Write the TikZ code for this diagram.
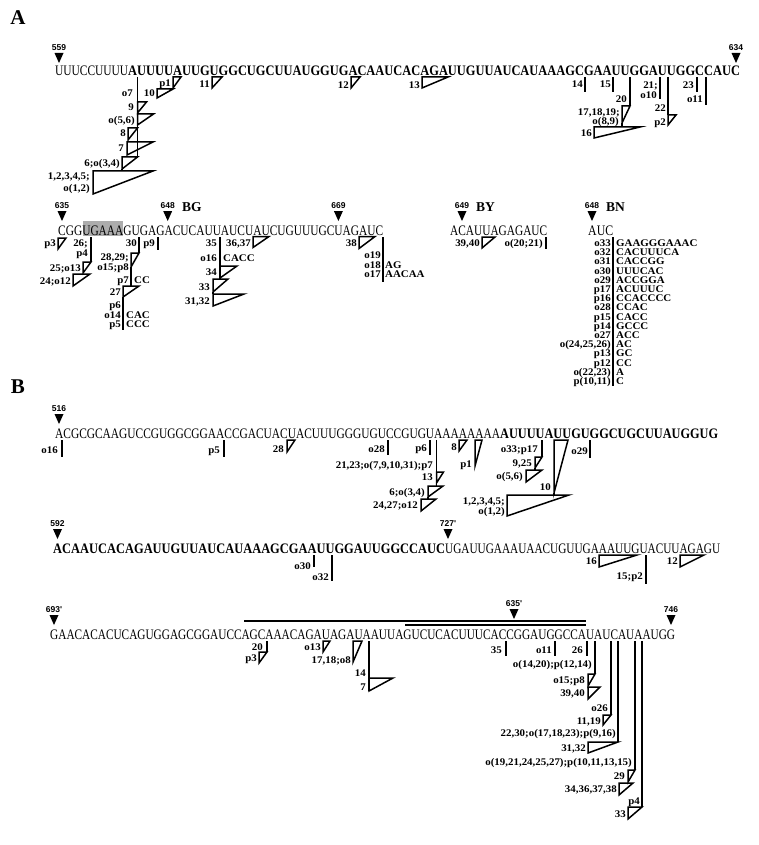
\documentclass[tikz,border=0pt]{standalone}
\usepackage{fontspec}
\usepackage{graphicx}
\setmainfont{Liberation Serif}
\newfontfamily\seqfont{Liberation Serif}
\newfontfamily\labfont{Liberation Serif}[FakeStretch=1.07]
\newfontfamily\numfont{Liberation Sans}
\newcount\nodecnt
\tikzset{
  mk/.style={line width=1.5pt},
  lab/.style={font=\labfont\bfseries\fontsize{10.2}{10.2}\selectfont, inner sep=0pt},
  num/.style={font=\numfont\bfseries\fontsize{8.5}{8.5}\selectfont, inner sep=0pt},
  seqn/.style={font=\seqfont\fontsize{14.5}{14.5}\selectfont, inner sep=0pt},
  head/.style={font=\bfseries\fontsize{21}{21}\selectfont, inner sep=0pt},
  tag/.style={font=\bfseries\fontsize{13.5}{13.5}\selectfont, inner sep=0pt},
}
% label, right edge x, centre y
\newcommand\Lb[3]{\global\advance\nodecnt by 1 \node[lab,anchor=base east] (lb\the\nodecnt) at (#1,#2+3.4) {#3};}
% label, left edge x, centre y
\newcommand\Rt[3]{\global\advance\nodecnt by 1 \node[lab,anchor=base west] (rt\the\nodecnt) at (#1,#2+3.4) {#3};}
% triangle: top-left x, y, width, height
\newcommand\Tr[4]{\draw[mk] (#1,#2) -- ++(#3,0) -- (#1,#2+#4) -- cycle;}
% vertical line
\newcommand\Vl[3]{\draw[mk] (#1,#2) -- (#1,#3);}
% position marker: name, x, top y, text
\newcommand\Ps[4]{\fill (#2-4.5,#3) -- (#2+4.5,#3) -- (#2,#3+10) -- cycle;
  \node[num,anchor=south] (#1) at (#2,#3-2) {#4};}
% sequence: name, left x, baseline y, width, text
\newcommand\Sq[5]{\node[seqn,anchor=base west] (#1) at (#2,#3) {\resizebox{#4pt}{\height}{#5}};}
% BN list row: index, left label, right text
\newcommand\Bn[3]{\Lb{611}{243+9.2*#1}{#2} \Rt{616}{243+9.2*#1}{#3}}
\begin{document}
\begin{tikzpicture}[x=1pt,y=-1pt]
\fill[white] (0,0) rectangle (759,845);
\useasboundingbox (0,0) rectangle (759,845);

%================ A, row 1
\node[head] (hA) at (18,18) {A};
\Ps{p559}{59}{53}{559}
\Ps{p634}{736}{53}{634}
\Sq{sA1a}{55}{76}{73}{UUUCCUUUU}
\Sq{sA1b}{128}{76}{612}{\bfseries AUUUUAUUGUGGCUGCUUAUGGUGACAAUCACAGAUUGUUAUCAUAAAGCGAAUUGGAUUGGCCAUC}

\Vl{137.5}{77}{157}
\Lb{133}{93}{o7}
\Tr{137.5}{102}{9}{11} \Lb{134}{107}{9}
\Tr{137.5}{114}{16}{11} \Lb{135}{120}{o(5,6)}
\Tr{128}{128}{9.5}{12} \Lb{126}{133}{8}
\Tr{127}{142}{26}{13} \Lb{124}{148}{7}
\Tr{122}{157}{15.5}{12} \Lb{120}{163}{6;o(3,4)}
\Vl{122}{169}{171}
\Tr{93}{171}{60}{23} \Lb{90}{176}{1,2,3,4,5;} \Lb{90}{188}{o(1,2)}

\Tr{173}{77}{8}{11} \Lb{171}{83}{p1}
\Vl{173}{88}{89}
\Tr{157}{89}{16}{9} \Lb{155}{93}{10}
\Tr{212}{77}{10}{11} \Lb{210}{84}{11}
\Tr{351}{77}{9}{11} \Lb{349}{85}{12}
\Tr{422}{77}{26}{11} \Lb{420}{85}{13}
\Vl{585}{77}{92} \Lb{583}{84}{14}
\Vl{613}{77}{92} \Lb{611}{84}{15}
\Vl{630}{77}{106} \Lb{627}{99}{20}
\Tr{622}{106}{8}{17} \Lb{620}{112}{17,18,19;} \Lb{619}{121}{o(8,9)}
\Vl{622}{123}{127}
\Tr{594}{127}{46}{11} \Lb{592}{133}{16}
\Vl{660}{77}{99} \Lb{658}{85}{21;} \Lb{657}{95}{o10}
\Vl{668}{77}{115} \Lb{666}{108}{22}
\Tr{668}{115}{8}{10} \Lb{666}{122}{p2}
\Vl{697}{77}{92} \Lb{694}{85}{23}
\Vl{706}{77}{105} \Lb{703}{99}{o11}

%================ A, row 2 : BG
\fill[gray!65] (82.5,221) rectangle (123,236);
\Sq{sBG}{58}{235}{325}{CGGUGAAAGUGAGACUCAUUAUCUAUCUGUUUGCUAGAUC}
\Ps{p635}{62}{211}{635}
\Ps{p648a}{167.7}{211}{648}
\node[tag,anchor=west] (tBG) at (182,207) {BG};
\Ps{p669}{338.4}{211}{669}

\Tr{58}{238}{8}{11} \Lb{56}{243}{p3}
\Vl{91}{237}{262} \Lb{88}{243}{26;} \Lb{88}{253}{p4}
\Tr{83}{262}{8}{11} \Lb{81}{268}{25;o13}
\Tr{73}{274}{17}{12} \Lb{71}{281}{24;o12}
\Vl{139}{237}{253} \Lb{137}{243}{30}
\Tr{131}{253}{8}{14} \Lb{129}{257}{28,29;} \Lb{129}{267}{o15;p8}
\Vl{131}{267}{286} \Lb{129}{280}{p7} \Rt{134}{280}{CC}
\Tr{123}{286}{16}{11} \Lb{121}{292}{27}
\Vl{123}{297}{330} \Lb{121}{305}{p6}
\Lb{121}{315}{o14} \Rt{126}{315}{CAC}
\Lb{121}{324.5}{p5} \Rt{126}{324.5}{CCC}
\Vl{158}{237}{250} \Lb{155}{243}{p9}
\Vl{220}{237}{279} \Lb{217}{243}{35}
\Lb{217}{258}{o16} \Rt{223}{258}{CACC}
\Tr{220}{266}{17}{12} \Lb{217}{272}{34}
\Tr{213}{279}{15}{13} \Lb{210}{287}{33}
\Vl{213}{292}{294}
\Tr{213}{294}{31}{12} \Lb{210}{301}{31,32}
\Tr{253}{236.5}{16}{11} \Lb{251}{243}{36,37}
\Tr{359}{236.5}{16}{12} \Lb{357}{243}{38}
\Vl{383}{237}{282} \Lb{381}{255}{o19}
\Lb{381}{265}{o18} \Rt{385}{265}{AG}
\Lb{381}{274.5}{o17} \Rt{385}{274.5}{AACAA}

%================ BY
\Sq{sBY}{450}{235}{97}{ACAUUAGAGAUC}
\Ps{p649}{462}{211}{649}
\node[tag,anchor=west] (tBY) at (476,207) {BY};
\Tr{482}{237}{13}{11} \Lb{480}{243}{39,40}
\Vl{546}{237}{249} \Lb{543}{243}{o(20;21)}

%================ BN
\Sq{sBN}{588}{235}{25}{AUC}
\Ps{p648b}{592}{211}{648}
\node[tag,anchor=west] (tBN) at (606,207) {BN};
\Vl{613}{237}{386}
\Bn{0}{o33}{GAAGGGAAAC}
\Bn{1}{o32}{CACUUUCA}
\Bn{2}{o31}{CACCGG}
\Bn{3}{o30}{UUUCAC}
\Bn{4}{o29}{ACCGGA}
\Bn{5}{p17}{ACUUUC}
\Bn{6}{p16}{CCACCCC}
\Bn{7}{o28}{CCAC}
\Bn{8}{p15}{CACC}
\Bn{9}{p14}{GCCC}
\Bn{10}{o27}{ACC}
\Bn{11}{o(24,25,26)}{AC}
\Bn{12}{p13}{GC}
\Bn{13}{p12}{CC}
\Bn{14}{o(22,23)}{A}
\Bn{15}{p(10,11)}{C}

%================ B, row 1
\node[head] (hB) at (18,387) {B};
\Ps{p516}{59}{414}{516}
\Sq{sB1a}{55}{438}{445}{ACGCGCAAGUCCGUGGCGGAACCGACUACUACUUUGGGUGUCCGUGUAAAAAAAA}
\Sq{sB1b}{500}{438}{218}{\bfseries AUUUUAUUGUGGCUGCUUAUGGUG}

\Vl{62}{440}{457} \Lb{58}{450}{o16}
\Vl{224}{440}{457} \Lb{220}{450}{p5}
\Tr{287}{440}{8}{12} \Lb{284}{449}{28}
\Vl{388}{440}{455} \Lb{385}{449}{o28}
\Vl{430}{440}{455} \Lb{427}{448}{p6}
\Vl{436.5}{440}{486} \Lb{433}{465}{21,23;o(7,9,10,31);p7}
\Tr{436.5}{472}{7}{11} \Lb{433}{477}{13}
\Tr{428}{486}{15}{11} \Lb{425}{492}{6;o(3,4)}
\Vl{428}{497}{499}
\Tr{421}{499}{15}{12} \Lb{418}{505}{24,27;o12}
\Tr{459}{440}{8}{11} \Lb{457}{447}{8}
\Tr{475}{440}{7}{26} \Lb{472}{464}{p1}
\Vl{542}{440}{457} \Lb{538}{449}{o33;p17}
\Tr{535}{457}{7}{11} \Lb{532}{463}{9,25}
\Vl{535}{468}{470}
\Tr{526}{470}{16}{12} \Lb{523}{476}{o(5,6)}
\Tr{554}{440}{14}{53} \Lb{551}{487}{10}
\Vl{554}{493}{495}
\Tr{507}{495}{62}{21} \Lb{505}{501}{1,2,3,4,5;} \Lb{505}{511}{o(1,2)}
\Vl{590}{440}{458} \Lb{588}{451}{o29}

%================ B, row 2
\Ps{p592}{57.5}{529}{592}
\Ps{p727}{448}{529}{727'}
\Sq{sB2a}{53}{553}{392}{\bfseries ACAAUCACAGAUUGUUAUCAUAAAGCGAAUUGGAUUGGCCAUC}
\Sq{sB2b}{445}{553}{275}{UGAUUGAAAUAACUGUUGAAAUUGUACUUAGAGU}
\Vl{314}{555}{567} \Lb{311}{566}{o30}
\Vl{332}{555}{581} \Lb{329}{577}{o32}
\Tr{599}{555}{38}{12} \Lb{597}{561}{16}
\Vl{646}{555}{584} \Lb{643}{576}{15;p2}
\Tr{680}{555}{24}{12} \Lb{678}{561}{12}

%================ B, row 3
\Ps{p693}{54}{615}{693'}
\Ps{p635b}{514}{609}{635'}
\Ps{p746}{671}{615}{746}
\draw[mk] (244,621) -- (586,621);
\draw[mk] (405,625) -- (586,625);
\Sq{sB3}{50}{639}{625}{GAACACACUCAGUGGAGCGGAUCCAGCAAACAGAUAGAUAAUUAGUCUCACUUUCACCGGAUGGCCAUAUCAUAAUGG}

\Vl{267}{641}{652} \Lb{263}{647}{20}
\Tr{259}{652}{8}{11} \Lb{257}{658}{p3}
\Tr{323}{641}{7}{11} \Lb{321}{647}{o13}
\Tr{353}{641}{9}{21} \Lb{351}{660}{17,18;o8}
\Vl{369}{641}{691} \Lb{366}{673}{14}
\Tr{369}{678}{24}{13} \Lb{366}{687}{7}
\Vl{506}{641}{656} \Lb{502}{650}{35}
\Vl{555}{641}{656} \Lb{552}{650}{o11}
\Vl{587}{641}{656} \Lb{583}{650}{26}
\Vl{595}{641}{674} \Lb{592}{664}{o(14,20);p(12,14)}
\Tr{588}{674}{7}{12} \Lb{585}{680}{o15;p8}
\Tr{588}{687}{12}{12} \Lb{585}{693}{39,40}
\Vl{611}{641}{715} \Lb{608}{708}{o26}
\Tr{603}{715}{8}{10} \Lb{601}{721}{11,19}
\Vl{618}{641}{742} \Lb{616}{733}{22,30;o(17,18,23);p(9,16)}
\Tr{588}{742}{30}{11} \Lb{586}{748}{31,32}
\Vl{635}{641}{770} \Lb{632}{762}{o(19,21,24,25,27);p(10,11,13,15)}
\Tr{628}{770}{7}{12} \Lb{625}{776}{29}
\Tr{619}{783}{14}{12} \Lb{617}{789}{34,36,37,38}
\Vl{642}{641}{807} \Lb{640}{801}{p4}
\Tr{628}{807}{14}{12} \Lb{626}{814}{33}
\end{tikzpicture}
\end{document}
